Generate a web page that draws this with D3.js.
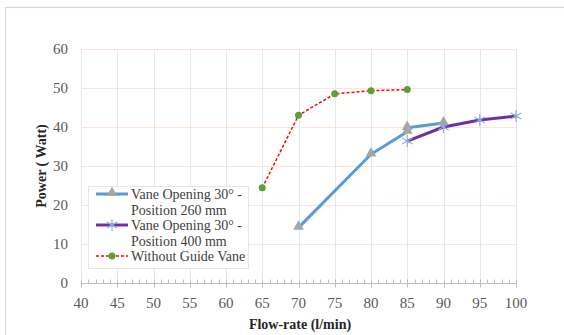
<!DOCTYPE html>
<html><head><meta charset="utf-8">
<script src="https://cdn.jsdelivr.net/npm/d3@7"></script>
<style>body{margin:0;background:#fff;} svg{display:block;} text{font-family:"Liberation Serif","Times New Roman",Tinos,"DejaVu Serif",serif;}</style>
</head><body>
<svg id="c" width="564" height="335"></svg>
<script>
const xTicks = [40,45,50,55,60,65,70,75,80,85,90,95,100];
const yTicks = [0,10,20,30,40,50,60];
const flow260 = [70,80,85,85,90];
const power260 = [14.2,33.0,38.8,39.8,41.0];
const flow400 = [85,90,95,100];
const power400 = [36.4,40.0,41.8,42.8];
const flowNoVane = [65,70,75,80,85];
const powerNoVane = [24.4,43.0,48.5,49.3,49.6];
const seriesNames = ["Vane Opening 30° -|Position 260 mm","Vane Opening 30° -|Position 400 mm","Without Guide Vane"];

const svg = d3.select("#c");
svg.append("rect").attr("x",5.5).attr("y",7.5).attr("width",600).attr("height",400)
  .attr("fill","#fff").attr("stroke","#d9d9d9").attr("stroke-width",1.2);

const x = d3.scaleLinear().domain([40,100]).range([81,516]);
const y = d3.scaleLinear().domain([0,60]).range([283,49]);

// gridlines
svg.append("g").selectAll("line").data(yTicks.filter(d=>d>0)).join("line")
  .attr("x1",x(40)).attr("x2",x(100)).attr("y1",d=>Math.round(y(d))+0.5).attr("y2",d=>Math.round(y(d))+0.5)
  .attr("stroke","#fbe5d6").attr("stroke-width",1);
svg.append("g").selectAll("line").data(xTicks).join("line")
  .attr("x1",d=>Math.round(x(d))+0.5).attr("x2",d=>Math.round(x(d))+0.5).attr("y1",y(60)).attr("y2",y(0))
  .attr("stroke","#dde8f5").attr("stroke-width",1);

// x axis
const xa = svg.append("g").attr("transform",`translate(0,${Math.round(y(0))+0.5})`);
xa.append("line").attr("x1",x(40)).attr("x2",x(100)).attr("stroke","#bfbfbf");
xa.selectAll(".mn").data(d3.range(40,101,1)).join("line")
  .attr("x1",d=>Math.round(x(d))+0.5).attr("x2",d=>Math.round(x(d))+0.5)
  .attr("y1",-4).attr("y2",d=>d%5===0?4:0).attr("stroke","#bfbfbf");
xa.selectAll("text").data(xTicks).join("text")
  .attr("x",d=>x(d)).attr("y",24).attr("text-anchor","middle")
  .attr("font-size",15).attr("fill","#595959").text(d=>d);

// y axis labels
svg.append("g").selectAll("text").data(yTicks).join("text")
  .attr("x",68).attr("y",d=>y(d)+5).attr("text-anchor","end")
  .attr("font-size",15).attr("fill","#595959").text(d=>d);

// axis titles
svg.append("text").attr("transform",`translate(46,166) rotate(-90)`).attr("text-anchor","middle")
  .attr("font-size",14).attr("font-weight","bold").attr("fill","#262626").text("Power ( Watt)");
svg.append("text").attr("x",300).attr("y",329).attr("text-anchor","middle")
  .attr("font-size",14).attr("font-weight","bold").attr("fill","#262626").text("Flow-rate (l/min)");

const line = d3.line().x(d=>x(d[0])).y(d=>y(d[1]));
const d260 = flow260.map((f,i)=>[f,power260[i]]);
const d400 = flow400.map((f,i)=>[f,power400[i]]);
const dNo = flowNoVane.map((f,i)=>[f,powerNoVane[i]]);

const tri = d3.symbol().type(d3.symbolTriangle).size(50);
function star(g, cx, cy, r, col){
  for (const a of [0,60,120]) {
    const t = a*Math.PI/180;
    g.append("line").attr("x1",cx+r*Math.sin(t)).attr("y1",cy-r*Math.cos(t))
      .attr("x2",cx-r*Math.sin(t)).attr("y2",cy+r*Math.cos(t)).attr("stroke",col).attr("stroke-width",1.2);
  }
}

// series 1
svg.append("path").attr("d",line(d260)).attr("fill","none").attr("stroke","#5b9bd5").attr("stroke-width",3).attr("stroke-linejoin","round");
svg.append("g").selectAll("path").data(d260).join("path")
  .attr("d",tri).attr("transform",d=>`translate(${x(d[0])},${y(d[1])-1})`).attr("fill","#a5a5a5");
// series 2
svg.append("path").attr("d",line(d400)).attr("fill","none").attr("stroke","#7030a0").attr("stroke-width",3).attr("stroke-linejoin","round");
const sg = svg.append("g");
d400.forEach(d=>star(sg,x(d[0]),y(d[1]),6,"#8faadc"));
// series 3
svg.append("path").attr("d",line(dNo)).attr("fill","none").attr("stroke","#ff0000").attr("stroke-width",1.5).attr("stroke-dasharray","3,2");
svg.append("g").selectAll("circle").data(dNo).join("circle")
  .attr("cx",d=>x(d[0])).attr("cy",d=>y(d[1])).attr("r",3.5).attr("fill","#5e9e37");

// legend
const lg = svg.append("g");
lg.append("rect").attr("x",88.5).attr("y",186.5).attr("width",160).attr("height",82).attr("fill","#fff").attr("stroke","#e6e6e6");
const rows = [194, 225, 256];
const styles = [
  {c:"#5b9bd5",w:3,dash:null},
  {c:"#7030a0",w:3,dash:null},
  {c:"#ff0000",w:1.5,dash:"3,2"}
];
rows.forEach((ry,i)=>{
  lg.append("line").attr("x1",96).attr("x2",128).attr("y1",ry).attr("y2",ry)
    .attr("stroke",styles[i].c).attr("stroke-width",styles[i].w).attr("stroke-dasharray",styles[i].dash);
  if(i===0) lg.append("path").attr("d",tri).attr("transform",`translate(112,${ry-1})`).attr("fill","#a5a5a5");
  if(i===1) star(lg,112,ry,6,"#8faadc");
  if(i===2) lg.append("circle").attr("cx",112).attr("cy",ry).attr("r",3.5).attr("fill","#5e9e37");
  const parts = seriesNames[i].split("|");
  parts.forEach((p,j)=>{
    lg.append("text").attr("x",131).attr("y",ry+5+j*15.5).attr("font-size",14)
      .attr("fill","#404040").text(p);
  });
});
</script>
</body></html>
